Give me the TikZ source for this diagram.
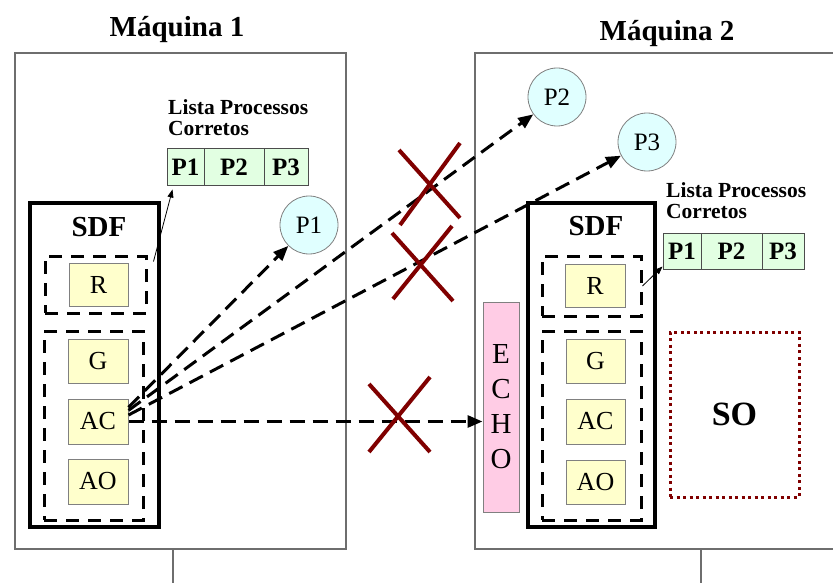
\documentclass[tikz,border=0pt]{standalone}
\usepackage{fontspec}
\setmainfont{Liberation Serif}
\usetikzlibrary{arrows.meta,calc}
\definecolor{boxyellow}{RGB}{255,255,204}
\definecolor{cyanfill}{RGB}{224,255,255}
\definecolor{greenfill}{RGB}{226,255,226}
\definecolor{pinkfill}{RGB}{255,204,229}
\definecolor{darkred}{RGB}{128,0,0}
\definecolor{framegray}{RGB}{110,110,110}
\begin{document}
\begin{tikzpicture}[x=1pt,y=-1pt,
 machine/.style={draw=framegray,line width=1.2pt},
 yellowbox/.style={draw=gray,fill=boxyellow,line width=1pt,minimum width=60pt,minimum height=44pt,inner sep=0pt,font=\fontsize{26}{26}\selectfont},
 dbox/.style={draw=black,line width=3pt,dash pattern=on 13pt off 9pt,inner sep=0pt},
 sdfbox/.style={draw=black,line width=4.5pt,inner sep=0pt},
 proc/.style={circle,draw=gray,fill=cyanfill,line width=0.8pt,minimum size=58pt,inner sep=0pt,font=\fontsize{25}{25}\selectfont},
 cell/.style={draw=black!70,fill=greenfill,line width=1pt,inner sep=0pt,font=\bfseries\fontsize{25}{25}\selectfont},
 lbl/.style={font=\bfseries\fontsize{29}{29}\selectfont},
 listlbl/.style={align=left,anchor=north west,inner sep=0pt,font=\bfseries\fontsize{21.5}{21}\selectfont},
 msg/.style={line width=3pt,dash pattern=on 15pt off 8pt,-{Triangle[length=15pt,width=12pt]}},
 ptr/.style={line width=0.8pt,-{Triangle[length=8pt,width=6pt]}},
 cross/.style={draw=darkred,line width=4pt}]
\fill[white] (0,0) rectangle (833,583);
\useasboundingbox (0,0) rectangle (833,583);
% titles
\node[lbl,anchor=base] (t1) at (177,37) {Máquina 1};
\node[lbl,anchor=base] (t2) at (667,41) {Máquina 2};
% machines
\draw[machine] (15,53) rectangle (346,549);
\draw[machine] (833,53) -- (475,53) -- (475,549) -- (833,549);
\draw[machine] (173,549) -- (173,583);
\draw[machine] (701,549) -- (701,583);
% ---- machine 1
\node[sdfbox,minimum width=129pt,minimum height=324pt] (SDF1) at (94.5,365) {};
\node[lbl] (sdfl1) at (99,227) {SDF};
\node[dbox,minimum width=101pt,minimum height=57pt] (Rd1) at (95.5,284.5) {};
\node[dbox,minimum width=99pt,minimum height=189pt] (Ld1) at (93.5,425.5) {};
\node[yellowbox,minimum width=59pt,minimum height=43pt] (R1) at (98.5,284.5) {R};
\node[yellowbox] (G1) at (98,361) {G};
\node[yellowbox,minimum height=45pt] (AC1) at (98,421.5) {AC};
\node[yellowbox,minimum height=45pt] (AO1) at (98,481.5) {AO};
\node[listlbl] (lista1) at (168,99) {Lista Processos\\Corretos};
\node[cell,minimum width=37pt,minimum height=37pt] (C11) at (185.5,167.5) {P1};
\node[cell,minimum width=60pt,minimum height=37pt] (C12) at (234,167.5) {P2};
\node[cell,minimum width=44pt,minimum height=37pt] (C13) at (286,167.5) {P3};
\node[proc] (P1) at (309,225) {P1};
% ---- machine 2
\node[proc] (P2) at (557,97) {P2};
\node[proc] (P3) at (647,142) {P3};
\node[sdfbox,minimum width=127pt,minimum height=324pt] (SDF2) at (591.5,365) {};
\node[lbl] (sdfl2) at (596,226) {SDF};
\node[dbox,minimum width=99pt,minimum height=60pt] (Rd2) at (591.5,286) {};
\node[dbox,minimum width=99pt,minimum height=189pt] (Ld2) at (591.5,425.5) {};
\node[yellowbox,minimum height=43pt] (R2) at (595,285.5) {R};
\node[yellowbox,minimum width=59pt] (G2) at (595.5,361) {G};
\node[yellowbox,minimum width=59pt,minimum height=45pt] (AC2) at (595.5,421.5) {AC};
\node[yellowbox,minimum width=59pt] (AO2) at (595.5,482) {AO};
\node[draw=gray,fill=pinkfill,line width=1pt,minimum width=36pt,minimum height=210pt,inner sep=0pt,align=center,font=\fontsize{29}{35}\selectfont] (ECHO) at (501,407) {E\\C\\H\\O};
\node[draw=darkred,line width=3pt,dash pattern=on 3pt off 3.5pt,minimum width=129pt,minimum height=165pt,inner sep=0pt,font=\bfseries\fontsize{34}{34}\selectfont] (SO) at (734.5,414.5) {SO};
\node[listlbl] (lista2) at (666,182) {Lista Processos\\Corretos};
\node[cell,minimum width=38pt,minimum height=36pt] (C21) at (682,251) {P1};
\node[cell,minimum width=61pt,minimum height=36pt] (C22) at (731.5,251) {P2};
\node[cell,minimum width=42pt,minimum height=36pt] (C23) at (783,251) {P3};
% pointers to lists
\draw[ptr] ($(Rd1.north east)+(6,7)$) -- ($(C11.south west)+(6,3)$);
\draw[ptr] (Rd2.east) -- ($(C21.south west)+(0,-3)$);
% messages
\draw[msg] (AC1.25) -- (P1);
\draw[msg] (AC1.20) -- (P2);
\draw[msg] (AC1.12) -- (P3);
\draw[msg] (AC1.east) -- (AC1.east -| ECHO.west);
% crosses
\draw[cross] (399,150) -- (460,218) (400,225) -- (460,143);
\draw[cross] (392,233) -- (453,301) (393,299) -- (452,226);
\draw[cross] (369,384) -- (430,452) (369,452) -- (430,377);
\end{tikzpicture}
\end{document}
